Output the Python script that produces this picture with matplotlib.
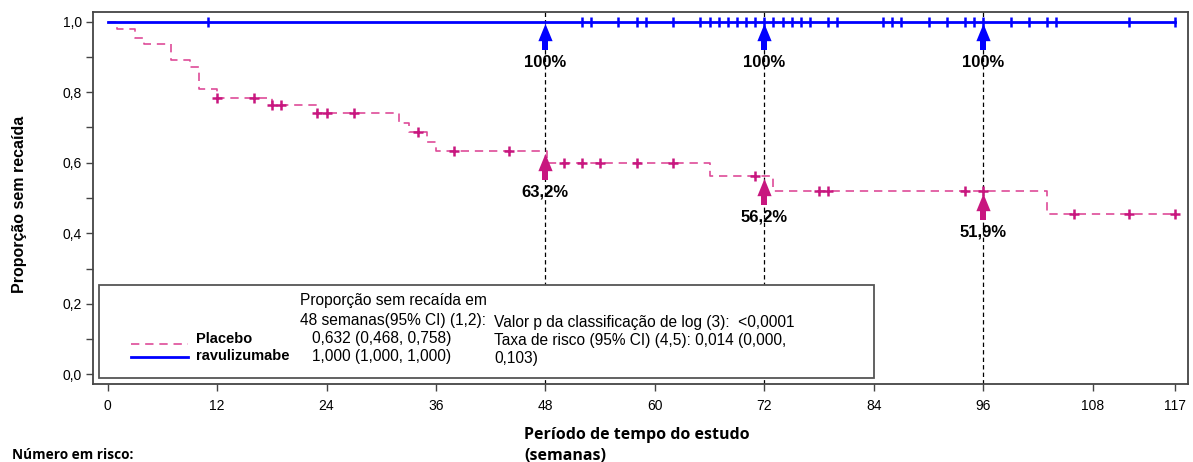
import numpy as np
import matplotlib
matplotlib.use('Agg')
import matplotlib.pyplot as plt
from matplotlib.transforms import offset_copy
from matplotlib.patches import Rectangle

plt.rcParams['font.family'] = ['Liberation Sans', 'DejaVu Sans']

# dados
placebo_t = [0, 1, 3, 4, 7, 9, 10, 12, 18, 23, 32, 33, 35, 36, 48.15, 66, 73, 103, 117]
placebo_s = [1.0, 0.979, 0.955, 0.937, 0.892, 0.872, 0.809, 0.785, 0.763, 0.740,
             0.714, 0.688, 0.660, 0.632, 0.600, 0.562, 0.519, 0.454, 0.454]
placebo_cens = [12, 16, 18, 19, 23, 24, 27, 34, 38, 44, 50, 52, 54, 58, 62, 71,
                78, 79, 94, 96, 106, 112, 117]
ravu_t = [0, 117]
ravu_s = [1.0, 1.0]
ravu_cens = [11, 52, 53, 56, 58, 59, 62, 65, 66, 67, 68, 69, 70, 71, 72, 73, 74, 75,
             76, 77, 79, 80, 85, 86, 87, 90, 92, 94, 95, 96, 99, 101, 103, 104, 112, 117]
marcos = [48, 72, 96]
placebo_marcos = [0.632, 0.562, 0.519]
ravu_marcos = [1.0, 1.0, 1.0]
xticks = [0, 12, 24, 36, 48, 60, 72, 84, 96, 108, 117]

pink_line = '#de4b98'
pink = '#c8177f'
blue = '#0000ff'

W, H = 1193, 462
fig = plt.figure(figsize=(W / 100, H / 100), dpi=100)
ax = fig.add_axes([93 / W, 1 - 384 / H, (1188 - 93) / W, (384 - 12) / H])


def fx(px):
    return px / W


def fy(py):
    return 1 - py / H


def step_val(t, s, x):
    i = np.searchsorted(t, x, side='right') - 1
    return np.array(s)[i]


# linhas verticais
for m in marcos:
    ax.axvline(m, color='black', lw=0.9, ls=(0, (3.5, 2.5)), zorder=1)

# curvas
ax.step(placebo_t, placebo_s, where='post', color=pink_line, lw=1.2,
        ls=(0, (5, 3.5)), zorder=2)
ax.step(ravu_t, ravu_s, where='post', color=blue, lw=2, zorder=3)
ax.plot(ravu_cens, step_val(ravu_t, ravu_s, ravu_cens), ls='none', marker='|',
        ms=7, mew=1.8, color=blue, zorder=4)
ax.plot(placebo_cens, step_val(placebo_t, placebo_s, placebo_cens), ls='none',
        marker='+', ms=7, mew=1.8, color=pink, zorder=4)

# setas
tri = [(-0.41, -0.5), (0.41, -0.5), (0, 0.5), (-0.41, -0.5)]
sq = [(-0.37, -0.5), (0.37, -0.5), (0.37, 0.5), (-0.37, 0.5), (-0.37, -0.5)]
t_tri = offset_copy(ax.transData, fig=fig, x=0, y=-10.5, units='dots')
t_sq = offset_copy(ax.transData, fig=fig, x=0, y=-23.5, units='dots')
for vals, col in [(ravu_marcos, blue), (placebo_marcos, pink)]:
    ax.plot(marcos, vals, ls='none', marker=tri, ms=12.5, color=col, mew=0,
            transform=t_tri, zorder=5)
    ax.plot(marcos, vals, ls='none', marker=sq, ms=6.5, color=col, mew=0,
            transform=t_sq, zorder=5)
    for m, v in zip(marcos, vals):
        lab = '100%' if v >= 1 else ('%.1f%%' % (v * 100)).replace('.', ',')
        ax.annotate(lab, xy=(m, v), xytext=(0, -29.5), textcoords='offset points',
                    ha='center', va='center', fontsize=12, fontweight='bold',
                    zorder=6)

ax.set_xlim(-1.6, 118.45)
ax.set_ylim(-0.0275, 1.0275)
ax.set_xticks(xticks)
ax.set_xticklabels([str(v) for v in xticks])
ax.set_yticks(np.arange(0, 1.01, 0.2))
ax.set_yticklabels([('%.1f' % v).replace('.', ',') for v in np.arange(0, 1.01, 0.2)])
ax.set_yticks(np.arange(0.1, 1.0, 0.2), minor=True)
ax.tick_params(axis='both', which='both', direction='out', length=5, width=1,
               color='#444444', labelsize=10, pad=3)
ax.tick_params(axis='x', pad=6)
for sp in ax.spines.values():
    sp.set_color('#444444')
    sp.set_linewidth(1.3)

fig.text(fx(20), fy(204), 'Proporção sem recaída', fontsize=11.5, fontweight='bold',
         rotation=90, ha='center', va='center')

# caixa da legenda
box = Rectangle((fx(99), fy(378)), fx(874 - 99), (378 - 285) / H,
                transform=fig.transFigure, facecolor='white', edgecolor='#555555',
                lw=1.3, zorder=10)
ax.add_artist(box)
box.set_clip_on(False)

ax.plot([fx(131), fx(188)], [fy(344), fy(344)], transform=fig.transFigure,
        color=pink_line, lw=1.2, ls=(0, (5, 3.5)), zorder=11, clip_on=False)
ax.plot([fx(131), fx(188)], [fy(357), fy(357)], transform=fig.transFigure,
        color=blue, lw=2, zorder=11, clip_on=False)

tk = dict(fontsize=11.2, va='center', ha='left', zorder=12)
fig.text(fx(196), fy(339), 'Placebo', fontweight='bold', fontsize=10.5,
         va='center', ha='left', zorder=12)
fig.text(fx(196), fy(356), 'ravulizumabe', fontweight='bold', fontsize=10.5,
         va='center', ha='left', zorder=12)
fig.text(fx(300), fy(300), 'Proporção sem recaída em', **tk)
fig.text(fx(300), fy(321), '48 semanas(95% CI) (1,2):', **tk)
fig.text(fx(312), fy(339), '0,632 (0,468, 0,758)', **tk)
fig.text(fx(312), fy(356), '1,000 (1,000, 1,000)', **tk)
fig.text(fx(494), fy(323), 'Valor p da classificação de log (3):  <0,0001', **tk)
fig.text(fx(494), fy(341), 'Taxa de risco (95% CI) (4,5): 0,014 (0,000,', **tk)
fig.text(fx(494), fy(359), '0,103)', **tk)

fig.text(fx(524), fy(435), 'Período de tempo do estudo', fontsize=11.5,
         fontweight='bold', va='center', ha='left', family=['Open Sans', 'DejaVu Sans'])
fig.text(fx(524), fy(456), '(semanas)', fontsize=11.5, fontweight='bold',
         va='center', ha='left', family=['Open Sans', 'DejaVu Sans'])
fig.text(fx(12), fy(455), 'Número em risco:', fontsize=9.8, fontweight='bold',
         va='center', ha='left', family=['Open Sans', 'DejaVu Sans'])

fig.savefig('out.png', dpi=100)
